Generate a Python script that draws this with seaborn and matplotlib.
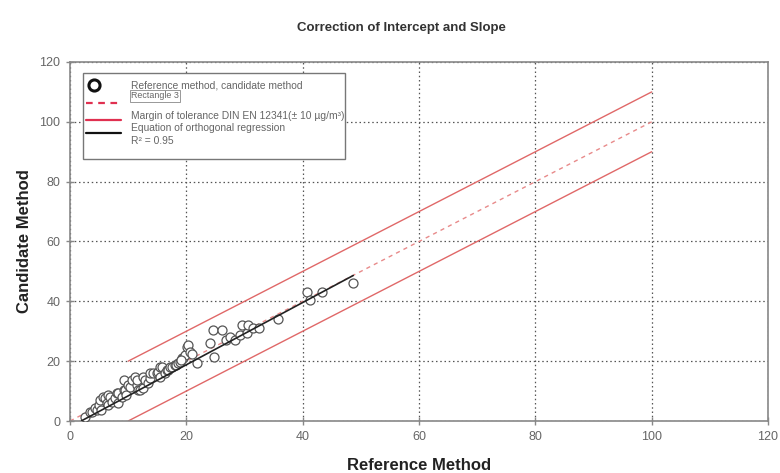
import matplotlib
matplotlib.use("Agg")
import matplotlib.pyplot as plt
import seaborn as sns
import pandas as pd
from matplotlib.lines import Line2D
from matplotlib.patches import Rectangle

# ---- data ----
reference = [2.6, 3.4, 3.7, 4.3, 4.6, 4.9, 5.2, 5.4, 5.7, 6.0, 6.3, 6.6, 6.6, 6.9, 7.2, 7.7,
             8.0, 8.3, 8.3, 8.9, 9.2, 9.2, 9.5, 9.7, 10.0, 10.3, 10.6, 11.2, 11.5, 11.5, 11.7,
             12.0, 12.6, 12.6, 12.9, 13.4, 13.8, 13.8, 14.3, 14.9, 15.2, 15.5, 15.5, 15.8, 16.3,
             16.6, 16.9, 17.2, 17.5, 18.0, 18.3, 18.6, 18.9, 19.2, 19.5, 19.8, 20.1, 20.3, 21.8,
             24.1, 24.6, 24.8, 26.1, 26.9, 27.5, 28.4, 29.2, 29.5, 30.4, 30.6, 31.5, 32.5, 35.8,
             40.7, 41.3, 43.3, 48.7, 20.6, 19.0, 21.0]
candidate = [1.2, 3.1, 3.1, 4.2, 3.7, 5.3, 7.0, 3.7, 8.1, 7.6, 5.9, 8.7, 5.3, 8.1, 6.5, 7.6,
             9.3, 9.3, 5.9, 8.1, 13.7, 10.4, 10.4, 8.7, 12.0, 11.5, 13.7, 14.8, 12.0, 13.7, 10.4,
             10.4, 10.9, 14.8, 13.7, 12.6, 14.3, 15.9, 15.9, 15.9, 16.5, 18.1, 14.8, 18.1, 15.9,
             17.0, 17.0, 18.1, 18.1, 18.7, 18.7, 19.3, 19.8, 21.0, 21.0, 22.0, 24.8, 25.4, 19.5,
             26.0, 30.4, 21.3, 30.4, 27.0, 28.2, 27.0, 28.7, 32.0, 29.3, 32.0, 31.0, 31.0, 34.0,
             43.2, 40.4, 43.2, 46.0, 23.0, 20.5, 22.5]

identity_x = [0, 100]
tolerance_x = [10, 100]
tolerance_margin = 10
regression_x = [2, 48.7]
regression_slope = 1.04
regression_intercept = -2.0

x_ticks = [0, 20, 40, 60, 80, 100, 120]
y_ticks = [0, 20, 40, 60, 80, 100, 120]

df = pd.DataFrame({"ref": reference, "cand": candidate})

sns.set_theme(style="white")
plt.rcParams["font.family"] = ["Liberation Sans", "DejaVu Sans"]

fig = plt.figure(figsize=(7.8, 4.73), dpi=100)
ax = fig.add_axes([70 / 780, 1 - 421 / 473, 698 / 780, 359 / 473])

# lines
ax.plot(identity_x, identity_x, color="#e88a8a", lw=1.0, ls=(0, (3, 3)), zorder=1)
ax.plot(tolerance_x, [v + tolerance_margin for v in tolerance_x], color="#e06868", lw=1.0, zorder=1)
ax.plot(tolerance_x, [v - tolerance_margin for v in tolerance_x], color="#e06868", lw=1.0, zorder=1)

sns.scatterplot(data=df, x="ref", y="cand", ax=ax, marker="o", s=42,
                facecolor="white", edgecolor="#555555", linewidth=0.9, zorder=3)

ax.plot(regression_x, [regression_slope * v + regression_intercept for v in regression_x],
        color="#222222", lw=1.2, zorder=4)

ax.set_xlim(0, 120)
ax.set_ylim(0, 120)
ax.set_xticks(x_ticks)
ax.set_yticks(y_ticks)
ax.grid(True, color="#555555", ls=(0, (1.2, 2.2)), lw=0.9)
for s in ax.spines.values():
    s.set_color("#888888")
    s.set_linewidth(1.2)
ax.tick_params(axis="both", direction="inout", length=6, width=1, color="#888888",
               labelsize=9, labelcolor="#666666", left=True, bottom=True, pad=4)

ax.set_xlabel("Reference Method", fontsize=12, fontweight="bold", color="#222222", labelpad=11)
ax.set_ylabel("Candidate Method", fontsize=12, fontweight="bold", color="#222222", labelpad=5)

fig.text(0.515, 0.941, "Correction of Intercept and Slope", ha="center", va="center",
         fontsize=9.5, fontweight="bold", color="#333333")

# legend (manual box)
def fx(px):
    return px / 780

def fy(py):
    return 1 - py / 473

fig.patches.append(Rectangle((fx(83), fy(159)), fx(345) - fx(83), fy(73) - fy(159),
                             transform=fig.transFigure, facecolor="white",
                             edgecolor="#777777", lw=1.0, zorder=10))
fig.lines.append(Line2D([fx(94)], [fy(85)], marker="o", ms=8, mfc="white", mec="#111111",
                        mew=2.2, transform=fig.transFigure, zorder=11))
fig.lines.append(Line2D([fx(86), fx(121)], [fy(103), fy(103)], color="#e03050", lw=1.6,
                        ls=(0, (3, 2.5)), transform=fig.transFigure, zorder=11))
fig.lines.append(Line2D([fx(86), fx(121)], [fy(120), fy(120)], color="#e03050", lw=1.6,
                        transform=fig.transFigure, zorder=11))
fig.lines.append(Line2D([fx(86), fx(121)], [fy(133), fy(133)], color="#111111", lw=1.6,
                        transform=fig.transFigure, zorder=11))
leg_fs = 7.4
leg_col = "#666666"
fig.text(fx(131), fy(85), "Reference method, candidate method", fontsize=leg_fs, color=leg_col,
         va="center", zorder=12)
fig.text(fx(131), fy(96), "Rectangle 3", fontsize=leg_fs - 1, color=leg_col, va="center",
         zorder=12, bbox=dict(facecolor="white", edgecolor="#888888", lw=0.6, pad=0.8))
fig.text(fx(131), fy(116), "Margin of tolerance DIN EN 12341(± 10 µg/m³)", fontsize=leg_fs,
         color=leg_col, va="center", zorder=12)
fig.text(fx(131), fy(128), "Equation of orthogonal regression", fontsize=leg_fs, color=leg_col,
         va="center", zorder=12)
fig.text(fx(131), fy(141), "R² = 0.95", fontsize=leg_fs, color=leg_col, va="center", zorder=12)

fig.savefig("out.png", dpi=100, facecolor="white")
